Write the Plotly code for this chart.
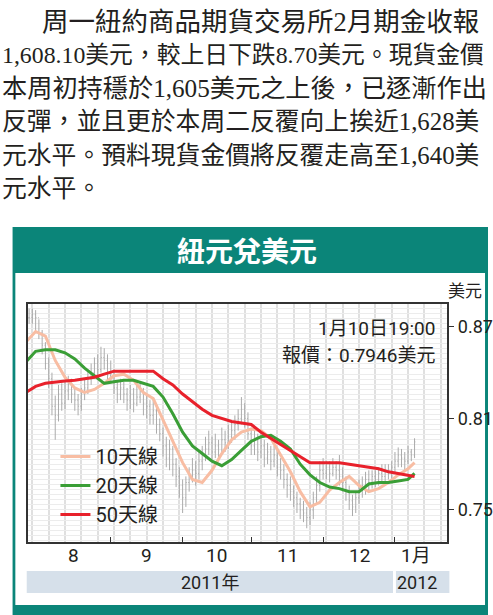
import plotly.graph_objects as go

# ---------------- data ----------------
# trading-day index: 0 = 1 Aug 2011, 23 = 1 Sep, 45 = 3 Oct, 66 = 1 Nov, 88 = 1 Dec, 110 = 2 Jan 2012
day_start = -2
highs = [0.882, 0.882, 0.881, 0.875, 0.868, 0.860, 0.850, 0.840, 0.825, 0.832, 0.833, 0.834,
         0.838, 0.836, 0.830, 0.826, 0.830, 0.836, 0.842, 0.846, 0.850, 0.852, 0.857, 0.856,
         0.852, 0.848, 0.842, 0.835, 0.836, 0.834, 0.830, 0.832, 0.830, 0.832, 0.834, 0.830,
         0.826, 0.822, 0.824, 0.818, 0.810, 0.804, 0.798, 0.796, 0.792, 0.784, 0.778, 0.770,
         0.772, 0.778, 0.784, 0.782, 0.788, 0.792, 0.798, 0.802, 0.798, 0.800, 0.796, 0.804,
         0.802, 0.806, 0.808, 0.812, 0.816, 0.824, 0.820, 0.814, 0.804, 0.802, 0.800, 0.800,
         0.796, 0.794, 0.792, 0.792, 0.790, 0.784, 0.780, 0.774, 0.772, 0.766, 0.762, 0.758,
         0.756, 0.752, 0.755, 0.762, 0.772, 0.782, 0.784, 0.782, 0.782, 0.784, 0.782, 0.786,
         0.778, 0.772, 0.766, 0.760, 0.762, 0.770, 0.772, 0.775, 0.776, 0.776, 0.776, 0.778,
         0.780, 0.780, 0.780, 0.782, 0.788, 0.791, 0.790, 0.788, 0.792, 0.790, 0.797]
lows = [0.872, 0.872, 0.868, 0.862, 0.852, 0.842, 0.830, 0.812, 0.796, 0.808, 0.815, 0.816,
        0.822, 0.820, 0.815, 0.812, 0.815, 0.822, 0.826, 0.832, 0.836, 0.838, 0.840, 0.842,
        0.834, 0.834, 0.826, 0.820, 0.822, 0.820, 0.815, 0.816, 0.814, 0.818, 0.820, 0.812,
        0.810, 0.806, 0.806, 0.800, 0.795, 0.785, 0.778, 0.776, 0.772, 0.765, 0.758, 0.748,
        0.752, 0.762, 0.768, 0.766, 0.770, 0.776, 0.782, 0.786, 0.783, 0.784, 0.782, 0.786,
        0.788, 0.790, 0.794, 0.796, 0.802, 0.806, 0.804, 0.796, 0.786, 0.786, 0.782, 0.784,
        0.778, 0.780, 0.776, 0.778, 0.772, 0.770, 0.764, 0.758, 0.756, 0.752, 0.748, 0.744,
        0.742, 0.738, 0.740, 0.744, 0.754, 0.762, 0.770, 0.770, 0.768, 0.772, 0.770, 0.766,
        0.762, 0.756, 0.750, 0.746, 0.748, 0.754, 0.758, 0.760, 0.762, 0.764, 0.765, 0.766,
        0.767, 0.768, 0.770, 0.770, 0.774, 0.778, 0.778, 0.776, 0.780, 0.782, 0.784]
closes = [0.876, 0.878, 0.876, 0.866, 0.858, 0.846, 0.836, 0.818, 0.812, 0.826, 0.820, 0.828,
          0.832, 0.826, 0.822, 0.818, 0.826, 0.830, 0.836, 0.840, 0.846, 0.842, 0.850, 0.848,
          0.838, 0.840, 0.830, 0.826, 0.830, 0.826, 0.822, 0.826, 0.820, 0.824, 0.828, 0.820,
          0.818, 0.812, 0.815, 0.806, 0.800, 0.792, 0.784, 0.790, 0.780, 0.772, 0.766, 0.758,
          0.768, 0.772, 0.776, 0.774, 0.782, 0.786, 0.790, 0.794, 0.788, 0.792, 0.786, 0.796,
          0.794, 0.798, 0.802, 0.806, 0.810, 0.816, 0.810, 0.800, 0.792, 0.796, 0.788, 0.792,
          0.784, 0.788, 0.782, 0.786, 0.778, 0.776, 0.770, 0.766, 0.762, 0.758, 0.754, 0.750,
          0.748, 0.745, 0.750, 0.758, 0.766, 0.776, 0.774, 0.778, 0.774, 0.778, 0.776, 0.772,
          0.768, 0.762, 0.756, 0.752, 0.758, 0.764, 0.766, 0.770, 0.768, 0.772, 0.770, 0.774,
          0.772, 0.776, 0.774, 0.778, 0.782, 0.786, 0.784, 0.782, 0.788, 0.786, 0.7946]

ma_days = [-3, 0, 3, 6, 9, 12, 15, 18, 21, 24, 27, 30, 33, 36, 39, 42, 45, 48, 51, 54, 57,
           60, 63, 66, 69, 72, 75, 78, 81, 84, 87, 90, 93, 96, 99, 102, 105, 108, 111, 114, 116]
ma10 = [0.860, 0.867, 0.864, 0.848, 0.837, 0.830, 0.827, 0.829, 0.833, 0.838, 0.839, 0.835,
        0.827, 0.823, 0.809, 0.795, 0.781, 0.770, 0.768, 0.776, 0.787, 0.796, 0.801, 0.803,
        0.802, 0.797, 0.786, 0.775, 0.762, 0.752, 0.755, 0.763, 0.768, 0.772, 0.766, 0.762,
        0.764, 0.768, 0.773, 0.777, 0.781]
ma20 = [0.847, 0.854, 0.855, 0.855, 0.853, 0.849, 0.843, 0.838, 0.833, 0.834, 0.835, 0.835,
        0.833, 0.831, 0.824, 0.813, 0.801, 0.792, 0.787, 0.782, 0.779, 0.783, 0.789, 0.795,
        0.798, 0.799, 0.795, 0.790, 0.780, 0.773, 0.768, 0.765, 0.764, 0.762, 0.762, 0.767,
        0.768, 0.768, 0.769, 0.770, 0.774]
ma50 = [0.827, 0.831, 0.833, 0.834, 0.8345, 0.835, 0.836, 0.837, 0.839, 0.841, 0.841, 0.841,
        0.841, 0.841, 0.836, 0.832, 0.826, 0.821, 0.816, 0.812, 0.810, 0.808, 0.807, 0.806,
        0.801, 0.797, 0.793, 0.789, 0.785, 0.781, 0.781, 0.781, 0.781, 0.780, 0.779, 0.778,
        0.777, 0.775, 0.774, 0.773, 0.772]

month_starts = [23, 45, 66, 88, 110]
month_mids = [11.5, 34, 55.5, 77, 99, 116.5]
month_labels = ["8", "9", "10", "11", "12", "1月"]
y_ticks = [0.75, 0.81, 0.87]
y_ticklabels = ["0.75", "0.81", "0.87"]
quote_time = "1月10日19:00"
series_names = ["10天線", "20天線", "50天線"]
year_labels = ["2011年", "2012"]

paragraph = [
    "周一紐約商品期貨交易所2月期金收報",
    "1,608.10美元，較上日下跌8.70美元。現貨金價",
    "本周初持穩於1,605美元之上後，已逐漸作出",
    "反彈，並且更於本周二反覆向上挨近1,628美",
    "元水平。預料現貨金價將反覆走高至1,640美",
    "元水平。",
]
paragraph_sizes = [26.5, 23.8, 25.2, 24.8, 24.8, 24.8]

# ---------------- geometry ----------------
W, H = 493, 615
X_RANGE = [-2.42, 126.06]
Y_RANGE = [0.729, 0.885]
PX_L, PX_R, PX_T, PX_B = 28, 452, 304, 542
dom_x = [PX_L / W, PX_R / W]
dom_y = [1 - PX_B / H, 1 - PX_T / H]


def px_x(p):
    return p / W


def px_y(p):
    return 1 - p / H


def data_to_paper_x(v):
    return dom_x[0] + (v - X_RANGE[0]) / (X_RANGE[1] - X_RANGE[0]) * (dom_x[1] - dom_x[0])


days = list(range(day_start, day_start + len(closes)))
opens = [closes[0]] + closes[:-1]

TEAL = "#0b8579"
CJK = "Noto Sans CJK TC"
NARROW = "Liberation Sans Narrow, Roboto, Noto Sans CJK TC"
TXT = "#231f20"

fig = go.Figure()
fig.add_trace(go.Ohlc(
    x=days, open=opens, high=highs, low=lows, close=closes,
    increasing=dict(line=dict(color="#ababab", width=1)),
    decreasing=dict(line=dict(color="#ababab", width=1)),
    tickwidth=0.25, showlegend=False, hoverinfo="skip"))

for name, vals, col in zip(series_names, [ma10, ma20, ma50],
                           ["#f8bda3", "#3a9e36", "#e8212b"]):
    fig.add_trace(go.Scatter(x=ma_days, y=vals, mode="lines", name=name,
                             line=dict(color=col, width=3)))

shapes = [
    dict(type="rect", xref="paper", yref="paper", x0=px_x(12.7), x1=1.0,
         y0=0, y1=px_y(227), fillcolor=TEAL, line_width=0, layer="below"),
    dict(type="rect", xref="paper", yref="paper", x0=px_x(15.5), x1=px_x(490),
         y0=px_y(605), y1=px_y(273), fillcolor="white", line_width=0, layer="below"),
    dict(type="rect", xref="paper", yref="paper", x0=px_x(27),
         x1=data_to_paper_x(month_starts[-1] - 0.6),
         y0=px_y(593), y1=px_y(571), fillcolor="#d6e0ea", line_width=0, layer="below"),
    dict(type="rect", xref="paper", yref="paper", x0=data_to_paper_x(month_starts[-1] + 0.3),
         x1=px_x(454), y0=px_y(593), y1=px_y(571), fillcolor="#d6e0ea", line_width=0,
         layer="below"),
]

annotations = []
for i, (line, fs) in enumerate(zip(paragraph, paragraph_sizes)):
    annotations.append(dict(
        text=line, xref="paper", yref="paper", x=px_x(40 if i == 0 else 0),
        y=px_y(22 + 33.3 * i), xanchor="left", yanchor="middle", showarrow=False,
        font=dict(family="Liberation Serif, Noto Sans CJK TC", size=fs, color=TXT)))

annotations.append(dict(text="<b>紐元兌美元</b>", xref="paper", yref="paper", x=px_x(250),
                        y=px_y(250), xanchor="center", yanchor="middle", showarrow=False,
                        font=dict(family=CJK, size=28, color="white")))
annotations.append(dict(text="美元", xref="paper", yref="paper", x=px_x(470), y=px_y(289),
                        xanchor="center", yanchor="middle", showarrow=False,
                        font=dict(family=CJK, size=17, color=TXT)))
annotations.append(dict(text=quote_time, xref="paper", yref="paper", x=px_x(441), y=px_y(328),
                        xanchor="right", yanchor="middle", showarrow=False,
                        font=dict(family=NARROW, size=19, color=TXT)))
annotations.append(dict(text=f"報價：{closes[-1]:.4f}美元", xref="paper", yref="paper",
                        x=px_x(441), y=px_y(355), xanchor="right", yanchor="middle",
                        showarrow=False, font=dict(family=NARROW, size=19, color=TXT)))
for m, lab in zip(month_mids, month_labels):
    annotations.append(dict(text=lab, xref="x", yref="paper", x=m, y=px_y(555),
                            xanchor="center", yanchor="middle", showarrow=False,
                            font=dict(family=NARROW, size=19, color=TXT)))
annotations.append(dict(text=year_labels[0], xref="paper", yref="paper", x=px_x(212),
                        y=px_y(582), xanchor="center", yanchor="middle", showarrow=False,
                        font=dict(family=NARROW, size=18, color=TXT)))
annotations.append(dict(text=year_labels[1], xref="paper", yref="paper", x=px_x(421),
                        y=px_y(582), xanchor="center", yanchor="middle", showarrow=False,
                        font=dict(family=NARROW, size=18, color=TXT)))

fig.update_layout(
    width=W, height=H, margin=dict(l=0, r=0, t=0, b=0),
    paper_bgcolor="white", plot_bgcolor="white",
    shapes=shapes, annotations=annotations,
    showlegend=True,
    legend=dict(x=px_x(56), y=px_y(437), xanchor="left", yanchor="top",
                bgcolor="rgba(0,0,0,0)", font=dict(family=NARROW, size=20, color=TXT),
                tracegroupgap=0, itemwidth=30),
    xaxis=dict(domain=dom_x, range=X_RANGE, rangeslider=dict(visible=False),
               tickmode="array", tickvals=month_starts, ticktext=["" for _ in month_starts],
               ticks="inside", ticklen=5, tickcolor="#333", tickwidth=1.2,
               showgrid=False, zeroline=False, showline=True, mirror=True,
               linecolor="#333", linewidth=1.5,
               minor=dict(tickmode="linear", tick0=-1, dtick=5, showgrid=True,
                          gridcolor="#e0e0e0", gridwidth=1.5, ticks="")),
    yaxis=dict(domain=dom_y, range=Y_RANGE, side="right", tickmode="array",
               tickvals=y_ticks, ticktext=y_ticklabels, ticks="outside", ticklen=5,
               tickcolor="#333", showgrid=False, zeroline=False, showline=True,
               mirror=True, linecolor="#333", linewidth=1.5,
               tickfont=dict(family=NARROW, size=18, color=TXT),
               minor=dict(tickmode="linear", tick0=0.75, dtick=0.0033, showgrid=True,
                          gridcolor="#ececec", gridwidth=1, ticks="")),
)

fig.write_html("out.html", config={"displayModeBar": False},
               post_script="document.body.style.margin='0';"
                           "document.body.style.overflow='hidden';")
